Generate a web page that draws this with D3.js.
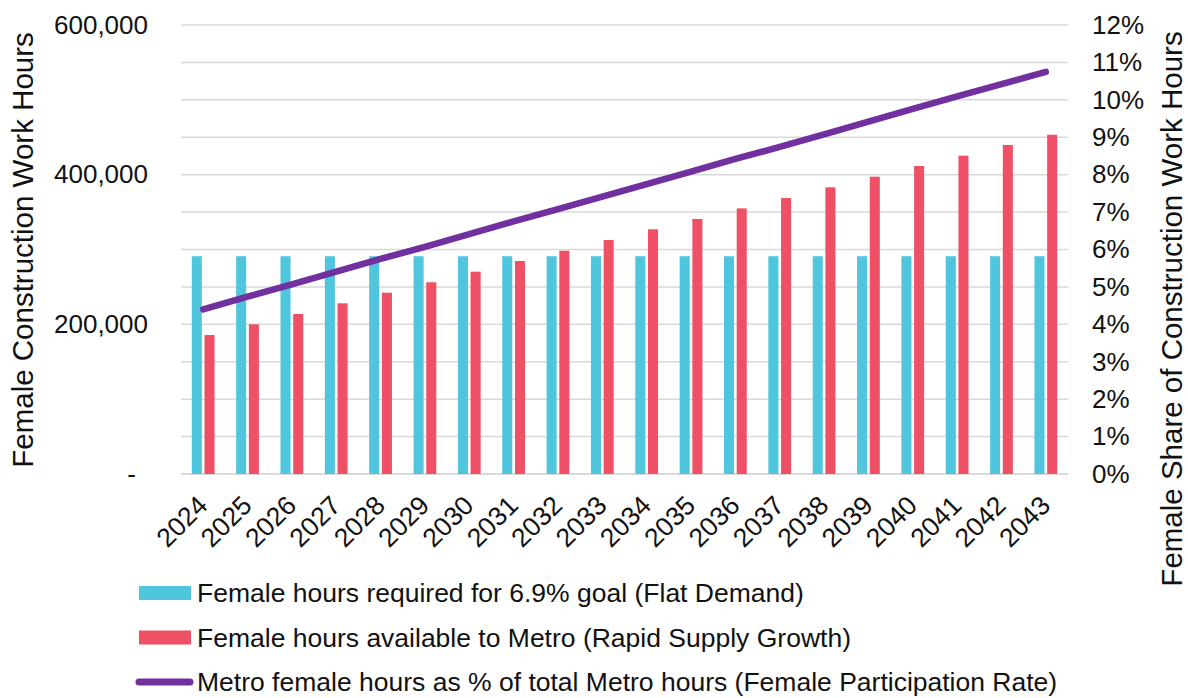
<!DOCTYPE html>
<html>
<head>
<meta charset="utf-8">
<script src="https://cdn.jsdelivr.net/npm/d3@7/dist/d3.min.js"></script>
<style>
  body { margin: 0; background: #fff; }
  svg { display: block; font-family: "Liberation Sans", Arial, sans-serif; }
</style>
</head>
<body>
<svg id="chart"></svg>
<script>
// chart data
var years = ["2024", "2025", "2026", "2027", "2028", "2029", "2030", "2031", "2032", "2033",
             "2034", "2035", "2036", "2037", "2038", "2039", "2040", "2041", "2042", "2043"];
var hoursRequired = [291000, 291000, 291000, 291000, 291000, 291000, 291000, 291000, 291000, 291000,
                     291000, 291000, 291000, 291000, 291000, 291000, 291000, 291000, 291000, 291000];
var hoursAvailable = [185700, 200000, 213800, 228100, 242300, 256200, 270400, 284600, 298400, 312700,
                      327000, 340800, 355000, 368800, 383100, 397300, 411600, 425400, 439600, 453400];
var shareOfTotal = [0.0440, 0.0474, 0.0507, 0.0541, 0.0575, 0.0607, 0.0641, 0.0675, 0.0708, 0.0741,
                    0.0775, 0.0808, 0.0842, 0.0874, 0.0908, 0.0942, 0.0976, 0.1009, 0.1042, 0.1075];
var leftTicks = [0, 200000, 400000, 600000];
var rightTicks = [0, 0.01, 0.02, 0.03, 0.04, 0.05, 0.06, 0.07, 0.08, 0.09, 0.10, 0.11, 0.12];
var seriesNames = [
  "Female hours required for 6.9% goal (Flat Demand)",
  "Female hours available to Metro (Rapid Supply Growth)",
  "Metro female hours as % of total Metro hours (Female Participation Rate)"
];

var colors = { required: "#4fc5de", available: "#ef5066", share: "#7030a0" };

var W = 1188, H = 698;
var margin = { top: 25, right: 120, bottom: 224, left: 181 };
var width = W - margin.left - margin.right,
    height = H - margin.top - margin.bottom;

var svg = d3.select("#chart").attr("width", W).attr("height", H);
svg.append("rect").attr("width", W).attr("height", H).attr("fill", "#fff");

var g = svg.append("g")
  .attr("transform", "translate(" + margin.left + "," + margin.top + ")");

var x0 = d3.scaleBand().domain(years).range([0, width]);
var x1 = d3.scaleBand().domain(["required", "available"])
  .range([0, x0.bandwidth()]).paddingInner(0.21).paddingOuter(0.85);

var yL = d3.scaleLinear().domain([0, 600000]).range([height, 0]);
var yR = d3.scaleLinear().domain([0, 0.12]).range([height, 0]);

// gridlines (one per percent step on the right axis)
g.append("g")
  .selectAll("line")
  .data(rightTicks)
  .enter()
  .append("line")
  .attr("x1", 0).attr("x2", width)
  .attr("y1", function(d) { return yR(d) })
  .attr("y2", function(d) { return yR(d) })
  .attr("stroke", "#d9d9d9")
  .attr("stroke-width", function(d) { return d === 0 ? 2 : 1.5 });

// bars
var rows = years.map(function(y, i) {
  return { year: y, required: hoursRequired[i], available: hoursAvailable[i] };
});

g.append("g")
  .selectAll("g")
  .data(rows)
  .enter()
  .append("g")
  .attr("transform", function(d) { return "translate(" + x0(d.year) + ",0)" })
  .selectAll("rect")
  .data(function(d) { return ["required", "available"].map(function(k) { return { key: k, value: d[k] } }) })
  .enter()
  .append("rect")
  .attr("x", function(d) { return x1(d.key) })
  .attr("width", x1.bandwidth())
  .attr("y", function(d) { return yL(d.value) })
  .attr("height", function(d) { return height - yL(d.value) })
  .attr("fill", function(d) { return colors[d.key] });

// share line
var line = d3.line()
  .x(function(d, i) { return x0(years[i]) + x0.bandwidth() / 2 })
  .y(function(d) { return yR(d) });

g.append("path")
  .datum(shareOfTotal)
  .attr("d", line)
  .attr("fill", "none")
  .attr("stroke", colors.share)
  .attr("stroke-width", 6.5)
  .attr("stroke-linecap", "round")
  .attr("stroke-linejoin", "round");

// left axis
var leftAxis = g.append("g")
  .call(d3.axisLeft(yL).tickValues(leftTicks).tickSize(0).tickPadding(33)
    .tickFormat(function(d) { return d === 0 ? "-" : d3.format(",")(d) }));
leftAxis.select(".domain").remove();
leftAxis.selectAll("text")
  .attr("font-size", 26).attr("fill", "#111")
  .attr("font-family", "Liberation Sans, Arial, sans-serif")
  .filter(function(d) { return d === 0 }).attr("x", -45);

// right axis
var rightAxis = g.append("g")
  .attr("transform", "translate(" + width + ",0)")
  .call(d3.axisRight(yR).tickValues(rightTicks).tickSize(0).tickPadding(24)
    .tickFormat(d3.format(".0%")));
rightAxis.select(".domain").remove();
rightAxis.selectAll("text")
  .attr("font-size", 26).attr("fill", "#111")
  .attr("font-family", "Liberation Sans, Arial, sans-serif");

// bottom axis
var bottomAxis = g.append("g")
  .attr("transform", "translate(0," + height + ")")
  .call(d3.axisBottom(x0).tickSize(0).tickPadding(0));
bottomAxis.select(".domain").remove();
bottomAxis.selectAll("text")
  .attr("font-size", 26.5).attr("fill", "#111")
  .attr("font-family", "Liberation Sans, Arial, sans-serif")
  .attr("text-anchor", "end")
  .attr("dy", 0)
  .attr("transform", "translate(6,33) rotate(-45)");

// axis titles
svg.append("text")
  .attr("transform", "translate(33,250) rotate(-90)")
  .attr("text-anchor", "middle")
  .attr("font-size", 29.5).attr("fill", "#111")
  .text("Female Construction Work Hours");

svg.append("text")
  .attr("transform", "translate(1182,309) rotate(-90)")
  .attr("text-anchor", "middle")
  .attr("font-size", 29.5).attr("fill", "#111")
  .text("Female Share of Construction Work Hours");

// legend
var legend = svg.append("g").attr("transform", "translate(136,593)");
var items = legend.selectAll("g")
  .data(seriesNames)
  .enter()
  .append("g")
  .attr("transform", function(d, i) { return "translate(0," + (i * 44.5) + ")" });

items.each(function(d, i) {
  var it = d3.select(this);
  if (i < 2) {
    it.append("rect").attr("x", 3).attr("y", -7).attr("width", 52).attr("height", 14)
      .attr("fill", i === 0 ? colors.required : colors.available);
  } else {
    it.append("line").attr("x1", 3).attr("x2", 54).attr("y1", 0).attr("y2", 0)
      .attr("stroke", colors.share).attr("stroke-width", 7).attr("stroke-linecap", "round");
  }
  it.append("text").attr("x", 61).attr("y", 0).attr("dy", "0.35em")
    .attr("font-size", 26.5).attr("fill", "#111").text(d);
});
</script>
</body>
</html>
